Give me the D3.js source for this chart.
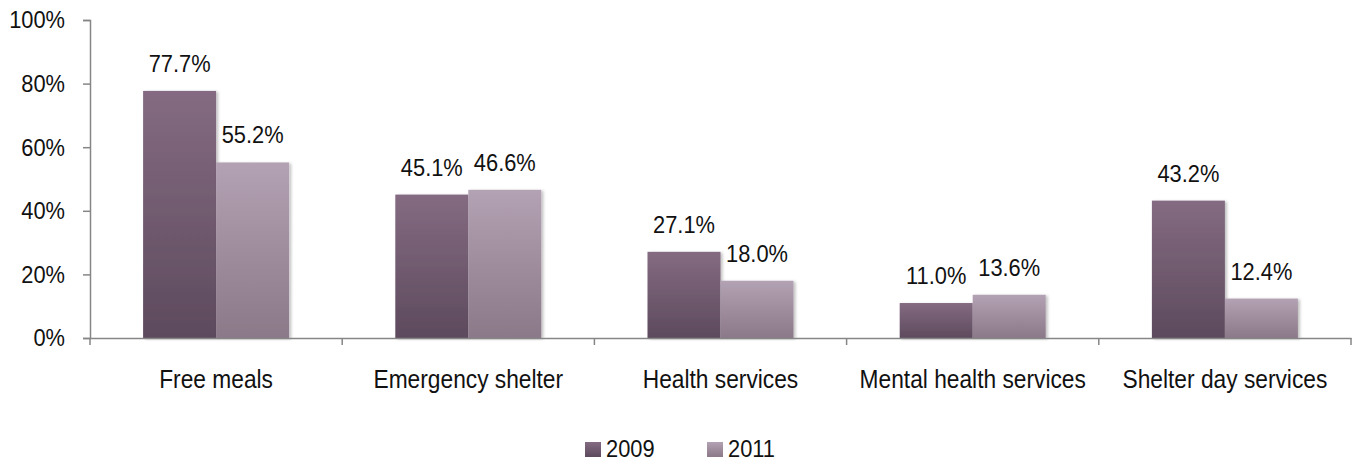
<!DOCTYPE html>
<html>
<head>
<meta charset="utf-8">
<script src="https://cdn.jsdelivr.net/npm/d3@7"></script>
<style>
  body { margin: 0; background: #fff; }
  text { font-family: "Liberation Sans", Arial, sans-serif; fill: #111; }
</style>
</head>
<body>
<svg id="chart" width="1355" height="462"></svg>
<script>
// data
var categories = ["Free meals", "Emergency shelter", "Health services", "Mental health services", "Shelter day services"];
var seriesNames = ["2009", "2011"];
var values2009 = [77.7, 45.1, 27.1, 11.0, 43.2];
var values2011 = [55.2, 46.6, 18.0, 13.6, 12.4];
var yTicks = [0, 20, 40, 60, 80, 100];

var svg = d3.select("#chart");
var axisColor = "#868686";
var squeeze = 0.91; // the original text is a bit narrow

var x = d3.scaleBand().domain(categories).range([90, 1351]);
var y = d3.scaleLinear().domain([0, 100]).range([338, 20]);
var inner = d3.scaleBand().domain(seriesNames).range([0, 146]);

function barX(i, s) {
    return x(categories[i]) + (x.bandwidth() - 146) / 2 + inner(seriesNames[s]);
}

// put a narrow text at (px, py)
function label(parent, px, py, str, size, anchor) {
    return parent.append("text")
        .attr("transform", "translate(" + px + "," + py + ") scale(" + squeeze + ",1)")
        .attr("text-anchor", anchor || "middle")
        .attr("font-size", size)
        .text(str);
}

// gradients, darker toward the bottom
var defs = svg.append("defs");
var grads = [["g2009", "#846b82", "#5d4a5d"], ["g2011", "#b3a2b3", "#8b7888"]];
grads.forEach(function (g) {
    var lg = defs.append("linearGradient").attr("id", g[0])
        .attr("x1", 0).attr("y1", 0).attr("x2", 0).attr("y2", 1);
    lg.append("stop").attr("offset", "0%").attr("stop-color", g[1]);
    lg.append("stop").attr("offset", "100%").attr("stop-color", g[2]);
});
var shadow = defs.append("filter").attr("id", "shadow")
    .attr("x", "-10%").attr("y", "-10%").attr("width", "130%").attr("height", "120%");
shadow.append("feDropShadow").attr("dx", 2).attr("dy", 1).attr("stdDeviation", 1.5)
    .attr("flood-color", "#000").attr("flood-opacity", 0.25);

// y axis
var yAxis = svg.append("g")
    .attr("transform", "translate(90,0)")
    .call(d3.axisLeft(y).tickValues(yTicks).tickSize(7).tickFormat(""));
yAxis.select(".domain").attr("stroke", axisColor).attr("stroke-width", 1.5);
yAxis.selectAll("line").attr("stroke", axisColor).attr("stroke-width", 1.5);
var yLabels = svg.append("g");
yTicks.forEach(function (t) {
    label(yLabels, 65, y(t), t + "%", 24, "end").attr("dy", "0.35em");
});

// bars
var series = [values2009, values2011];
series.forEach(function (vals, s) {
    var grp = svg.append("g");
    grp.selectAll("rect")
        .data(vals)
        .enter().append("rect")
        .attr("x", function (d, i) { return barX(i, s); })
        .attr("y", function (d) { return y(d); })
        .attr("width", inner.bandwidth())
        .attr("height", function (d) { return y(0) - y(d); })
        .attr("fill", "url(#g" + seriesNames[s] + ")")
        .attr("filter", "url(#shadow)");

    vals.forEach(function (d, i) {
        label(grp, barX(i, s) + inner.bandwidth() / 2, y(d) - 19, d.toFixed(1) + "%", 24);
    });
});

// x axis
var xAxis = svg.append("g")
    .attr("transform", "translate(0,338)")
    .call(d3.axisBottom(x).tickSize(0).tickFormat(""));
xAxis.select(".domain").attr("stroke", axisColor).attr("stroke-width", 1.5);
var xLabels = svg.append("g");
categories.forEach(function (c) {
    label(xLabels, x(c) + x.bandwidth() / 2, 388, c, 25);
});
// category separators
var bounds = categories.map(function (c) { return x(c); }).concat([x.range()[1]]);
svg.append("g").selectAll("line")
    .data(bounds)
    .enter().append("line")
    .attr("x1", function (d) { return d; }).attr("x2", function (d) { return d; })
    .attr("y1", 338).attr("y2", 345)
    .attr("stroke", axisColor).attr("stroke-width", 1.5);

// legend
var legendX = [585, 707];
var legend = svg.append("g");
seriesNames.forEach(function (d, i) {
    legend.append("rect")
        .attr("x", legendX[i]).attr("y", 442)
        .attr("width", 16).attr("height", 15)
        .attr("fill", "url(#g" + d + ")");
    label(legend, legendX[i] + 21, 457, d, 24, "start");
});
</script>
</body>
</html>
